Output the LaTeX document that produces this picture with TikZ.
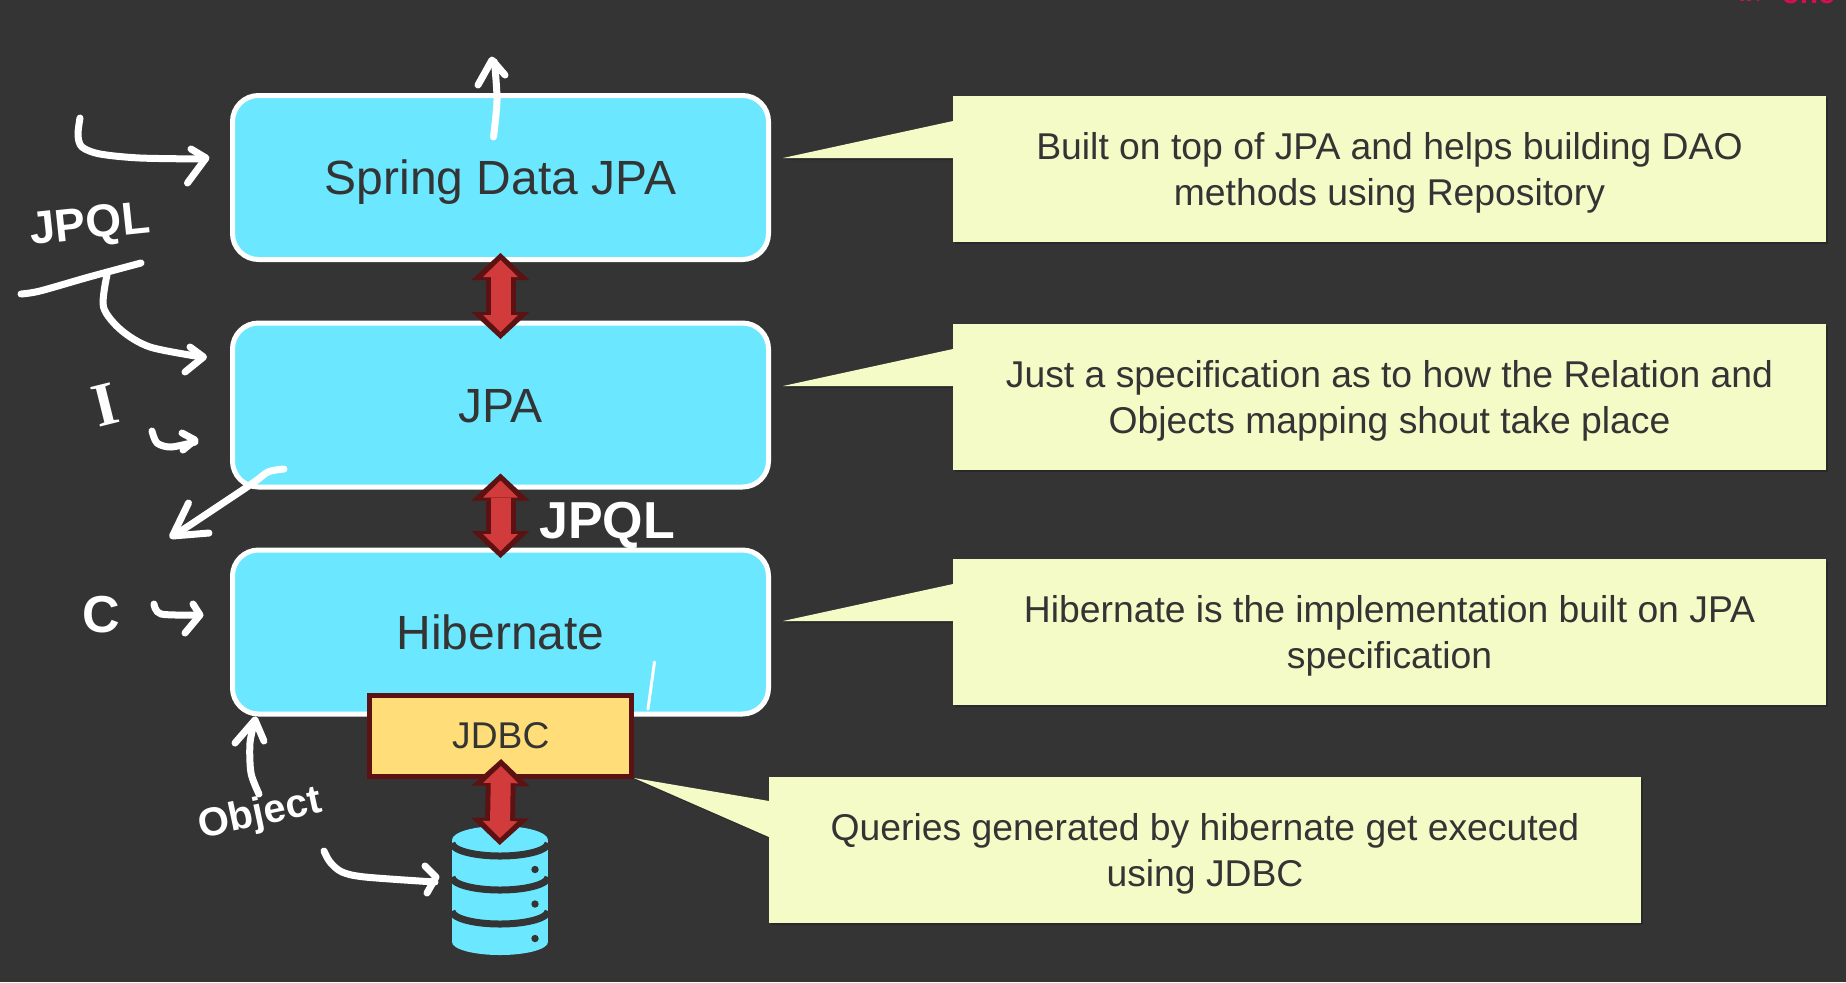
\documentclass[tikz,border=0pt]{standalone}
\usepackage{fontspec}
\setmainfont{Liberation Sans}
\usetikzlibrary{arrows.meta}
\usetikzlibrary{calc}
\usetikzlibrary{shadows}
\definecolor{mslate}{rgb}{0.205, 0.205, 0.205}
\definecolor{mcyan}{rgb}{0.42, 0.91, 1}
\definecolor{mcream}{rgb}{0.955, 0.985, 0.775}
\definecolor{mamber}{rgb}{1, 0.865, 0.47}
\definecolor{mred}{rgb}{0.82, 0.23, 0.23}
\definecolor{mmaroon}{rgb}{0.36, 0.07, 0.07}
\definecolor{mpink}{rgb}{0.85, 0.05, 0.33}
\tikzset{layerbox/.style = {draw=white, line width=2.5pt, fill=mcyan, rounded corners=13pt, inner sep=0, outer sep=0,
                            minimum width=268pt, minimum height=82pt, text=mslate, text height=17pt, text depth=0pt,
                            font=\fontsize{24}{28}\selectfont}}
\tikzset{jdbcbox/.style = {draw=mmaroon, line width=2.5pt, fill=mamber, inner sep=0, outer sep=0,
                           minimum width=131pt, minimum height=40.5pt, text=mslate, font=\fontsize{18.6}{22}\selectfont}}
\tikzset{softshadow/.style = {drop shadow={shadow xshift=1pt, shadow yshift=-1pt, fill=black, opacity=0.2}}}
\tikzset{notebox/.style = {fill=mcream, softshadow, anchor=north west, inner sep=0, outer sep=0, align=center,
                           minimum height=73pt, text=mslate, font=\fontsize{18.65}{23.3}\selectfont,
                           execute at begin node={\rule{0pt}{40.5pt}}}}
\tikzset{notetail/.style = {fill=mcream, softshadow}}
\tikzset{fatlink/.style 2 args = {draw=mmaroon, line width=15pt,
                                  arrows={Triangle[width=29pt, length=13.5pt, line width=0pt]-Triangle[width=29pt, length=13.5pt, line width=0pt]},
                                  shorten <=-#1, shorten >=-#2,
                                  postaction={draw=mred, line width=10pt,
                                              arrows={Triangle[width=17.5pt, length=8.5pt, line width=0pt]-Triangle[width=17.5pt, length=8.5pt, line width=0pt]},
                                              shorten <=3.5pt-#1, shorten >=3.5pt-#2}}}
\tikzset{scribble/.style = {draw=white, line width=3.5pt, line cap=round, line join=round}}
\tikzset{scribbletext/.style = {text=white, inner sep=0, font=\bfseries}}
\tikzset{dbband/.style = {draw=mslate, line width=3.5pt}}
\tikzset{dbdot/.style = {fill=mslate, circle, inner sep=0, minimum size=3.7pt}}

\begin{document}
\begin{tikzpicture}[x=0.5pt, y=-0.5pt]
    \useasboundingbox (0, 0) rectangle (1846, 982);
    \fill [mslate] (0, 0) rectangle (1846, 982);

    \node (cutoff) [text=mpink, anchor=base east, font=\bfseries\fontsize{15}{18}\selectfont] at (1842, 3) {>>> one};

    % layers
    \node (springbox) [layerbox] at (500.5, 177.5) {Spring Data JPA};
    \node (jpabox) [layerbox] at (500.5, 405) {JPA};
    \node (hibernatebox) [layerbox] at (500.5, 632) {Hibernate};
    \draw [draw=white, line width=1.5pt, line cap=round] (654.5, 662) -- (648, 709);
    \node (jdbcbox) [jdbcbox] at (500.8, 736) {JDBC};

    % database
    \fill [mcyan] (452, 840) -- (452, 942) arc [start angle=180, end angle=0, x radius=48, y radius=13]
      -- (548, 840) arc [start angle=0, end angle=-180, x radius=48, y radius=14] -- cycle;
    \draw [dbband] (452, 843) arc [start angle=180, end angle=0, x radius=48, y radius=13];
    \draw [dbband] (452, 877) arc [start angle=180, end angle=0, x radius=48, y radius=13];
    \draw [dbband] (452, 911) arc [start angle=180, end angle=0, x radius=48, y radius=13];
    \fill [mslate] (448, 835) rectangle (452, 960);
    \fill [mslate] (548, 835) rectangle (552, 960);
    \node (dotone) [dbdot] at (535, 869.5) {};
    \node (dottwo) [dbdot] at (535, 904) {};
    \node (dotthree) [dbdot] at (535, 938.5) {};
    \coordinate (dbtop) at (500, 826);

    \draw [fatlink={3.25pt}{8pt}] (springbox.south) -- (jpabox.north);
    \draw [fatlink={6.75pt}{4pt}] (jpabox.south) -- (hibernatebox.north);
    \draw [fatlink={8.75pt}{9.5pt}] (jdbcbox.south) -- (dbtop);

    % notes
    \coordinate (cornerone) at (953, 96);
    \coordinate (tipone) at (783, 158);
    \fill [notetail] (tipone) -- ($(cornerone) + (0, 25)$) -- ($(cornerone) + (0, 62)$) -- cycle;
    \node (noteone) [notebox, minimum width=436.5pt] at (cornerone) {Built on top of JPA and helps building DAO\\methods using Repository};

    \coordinate (cornertwo) at (953, 324);
    \coordinate (tiptwo) at (783, 386);
    \fill [notetail] (tiptwo) -- ($(cornertwo) + (0, 25)$) -- ($(cornertwo) + (0, 62)$) -- cycle;
    \node (notetwo) [notebox, minimum width=436.5pt] at (cornertwo) {Just a specification as to how the Relation and\\Objects mapping shout take place};

    \coordinate (cornerthree) at (953, 559);
    \coordinate (tipthree) at (783, 621);
    \fill [notetail] (tipthree) -- ($(cornerthree) + (0, 25)$) -- ($(cornerthree) + (0, 62)$) -- cycle;
    \node (notethree) [notebox, minimum width=436.5pt] at (cornerthree) {Hibernate is the implementation built on JPA\\specification};

    \coordinate (cornerfour) at (769, 777);
    \coordinate (tipfour) at (634, 778);
    \fill [notetail] (tipfour) -- ($(cornerfour) + (0, 24)$) -- ($(cornerfour) + (0, 60)$) -- cycle;
    \node (notefour) [notebox, minimum width=436pt] at (cornerfour) {Queries generated by hibernate get executed\\using JDBC};

    % pen marks
    \node (jpqlone) [scribbletext, rotate=6, font=\bfseries\fontsize{23}{26}\selectfont] at (90, 227) {JPQL};
    \node (jpqltwo) [scribbletext, font=\bfseries\fontsize{26}{30}\selectfont] at (607, 525) {JPQL};
    \node (letteri) [scribbletext, rotate=14, font=\fontspec{Liberation Serif}\bfseries\fontsize{31}{34}\selectfont] at (105, 405) {I};
    \node (letterc) [scribbletext, font=\bfseries\fontsize{26}{30}\selectfont] at (101, 615) {C};
    \node (objectword) [scribbletext, rotate=12, font=\bfseries\fontsize{20}{24}\selectfont] at (260, 815) {Object};

    \draw [scribble] plot [smooth] coordinates {(80, 118) (78, 135) (82, 147) (100, 154) (140, 158) (205, 159)};
    \draw [scribble] (191, 149) -- (206, 158) -- (187.5, 183);

    \draw [scribble] plot [smooth] coordinates {(493.5, 137) (497, 100) (494.5, 62)};
    \draw [scribble] (478, 85) -- (492, 60) -- (505, 75);

    \draw [scribble] plot [smooth] coordinates {(21, 294) (40, 291) (89, 277) (141, 263)};
    \draw [scribble] plot [smooth] coordinates {(107, 275) (103.5, 307) (121, 330) (150, 347) (202, 357)};
    \draw [scribble] (190, 347) -- (203.5, 357) -- (185, 372);

    \draw [scribble] plot [smooth] coordinates {(152, 431) (157, 443) (171, 447) (195, 442)};
    \draw [scribble] (182, 433) -- (195, 440) -- (183, 450);

    \draw [scribble] plot [smooth] coordinates {(284, 469) (268, 472) (250, 485) (175, 535)};
    \draw [scribble] (188.5, 503) -- (172.5, 536) -- (209, 533);

    \draw [scribble] plot [smooth] coordinates {(154, 604) (161, 614) (198, 615)};
    \draw [scribble] (193, 604) -- (200, 615) -- (185, 633);

    \draw [scribble] plot [smooth] coordinates {(259, 794) (251, 773) (250, 743) (255, 720)};
    \draw [scribble] (235, 743) -- (255, 720) -- (264, 741);

    \draw [scribble] plot [smooth] coordinates {(324, 851) (330, 862) (342, 872) (365, 877) (435, 882)};
    \draw [scribble] (425, 866) -- (436, 877) -- (427, 893);
  \end{tikzpicture}
\end{document}
